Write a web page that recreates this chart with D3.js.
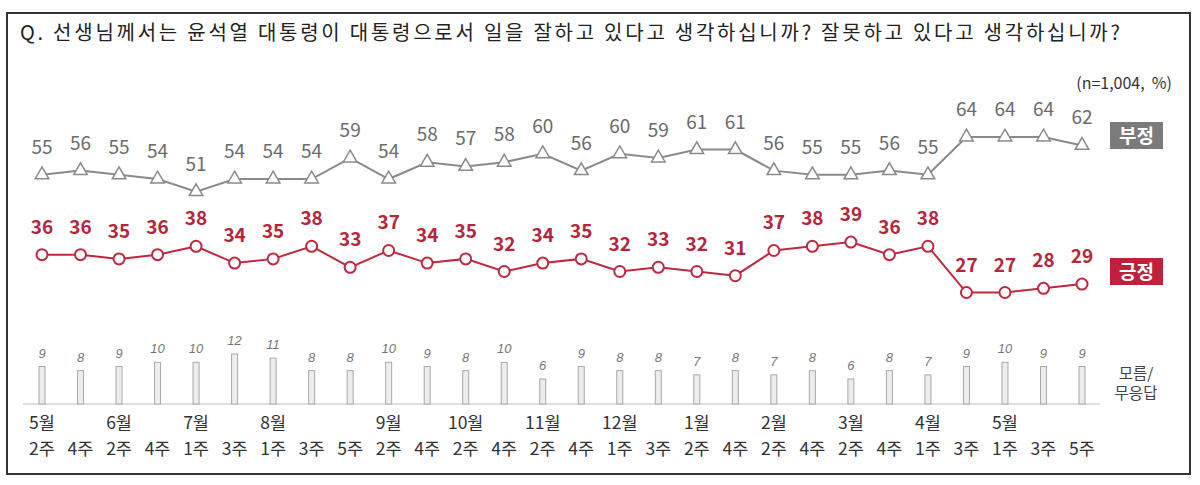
<!DOCTYPE html>
<html><head><meta charset="utf-8">
<script src="https://cdn.jsdelivr.net/npm/d3@7"></script>
<style>
html,body{margin:0;padding:0;background:#fff;}
svg{display:block;font-family:"Noto Sans CJK KR","Noto Sans",sans-serif;}
</style></head>
<body>
<svg id="chart" width="1200" height="485"></svg>
<script>
const monthLabels = ["5월","","6월","","7월","","8월","","","9월","","10월","","11월","","12월","","1월","","2월","","3월","","4월","","5월","",""];
const weekLabels = ["2주","4주","2주","4주","1주","3주","1주","3주","5주","2주","4주","2주","4주","2주","4주","1주","3주","2주","4주","2주","4주","2주","4주","1주","3주","1주","3주","5주"];
const negative = [55,56,55,54,51,54,54,54,59,54,58,57,58,60,56,60,59,61,61,56,55,55,56,55,64,64,64,62];
const positive = [36,36,35,36,38,34,35,38,33,37,34,35,32,34,35,32,33,32,31,37,38,39,36,38,27,27,28,29];
const unknown = [9,8,9,10,10,12,11,8,8,10,9,8,10,6,9,8,8,7,8,7,8,6,8,7,9,10,9,9];
const titleText = "Q. 선생님께서는 윤석열 대통령이 대통령으로서 일을 잘하고 있다고 생각하십니까? 잘못하고 있다고 생각하십니까?";
const noteText = "(n=1,004,  %)";
const seriesNames = ["부정","긍정"];
const unknownName = ["모름/","무응답"];

const svg = d3.select("#chart");
const idx = d3.range(negative.length);
const x = d3.scalePoint().domain(idx).range([42, 1082]);
const yLine = d3.scaleLinear().domain([0, 64]).range([406, 137]);
const yBar = d3.scaleLinear().domain([0, 12]).range([404, 354]);

// frame
svg.append("rect").attr("x",7).attr("y",13).attr("width",1183).attr("height",461)
  .attr("fill","none").attr("stroke","#333").attr("stroke-width",2);

// title
svg.append("text").attr("x",20).attr("y",40).attr("font-size",20).attr("fill","#222")
  .attr("textLength",1100).attr("lengthAdjust","spacing").text(titleText);
svg.append("text").attr("x",1172).attr("y",89).attr("text-anchor","end").attr("font-size",16)
  .attr("fill","#333").style("white-space","pre").text(noteText);

// bars
svg.append("line").attr("x1",23).attr("x2",1100).attr("y1",404).attr("y2",404)
  .attr("stroke","#d4d4d4").attr("stroke-width",1.5);
svg.append("g").selectAll("rect").data(unknown).join("rect")
  .attr("x",(d,i)=>x(i)-3).attr("y",d=>yBar(d)).attr("width",6).attr("height",d=>yBar(0)-yBar(d))
  .attr("fill","#ededed").attr("stroke","#a8a8a8").attr("stroke-width",1);
svg.append("g").selectAll("text").data(unknown).join("text")
  .attr("x",(d,i)=>x(i)).attr("y",d=>yBar(d)-9).attr("text-anchor","middle")
  .attr("font-size",13).attr("font-style","italic").attr("fill","#777")
  .attr("font-family","'Liberation Sans','DejaVu Sans',sans-serif").text(d=>d);

// x labels
svg.append("g").selectAll("text").data(monthLabels).join("text")
  .attr("x",(d,i)=>x(i)).attr("y",429).attr("text-anchor","middle").attr("font-size",17.5).attr("fill","#333").text(d=>d);
svg.append("g").selectAll("text").data(weekLabels).join("text")
  .attr("x",(d,i)=>x(i)).attr("y",455).attr("text-anchor","middle").attr("font-size",17.5).attr("fill","#333").text(d=>d);

// unknown label
svg.append("g").selectAll("text").data(unknownName).join("text")
  .attr("x",1136).attr("y",(d,i)=>379+i*20).attr("text-anchor","middle").attr("font-size",15.5).attr("fill","#444").text(d=>d);

const line = d3.line().x((d,i)=>x(i)).y(d=>yLine(d));
const gray = "#8a8a8a", red = "#c0283f";

// negative
svg.append("path").datum(negative).attr("d",line).attr("fill","none").attr("stroke",gray).attr("stroke-width",2);
svg.append("g").selectAll("path").data(negative).join("path")
  .attr("d",d3.symbol(d3.symbolTriangle,80)())
  .attr("transform",(d,i)=>`translate(${x(i)},${yLine(d)})`)
  .attr("fill","#fff").attr("stroke",gray).attr("stroke-width",1.5);
svg.append("g").selectAll("text").data(negative).join("text")
  .attr("x",(d,i)=>x(i)).attr("y",d=>yLine(d)-21).attr("text-anchor","middle")
  .attr("font-size",19).attr("fill","#6b6b6b").text(d=>d);

// positive
svg.append("path").datum(positive).attr("d",line).attr("fill","none").attr("stroke",red).attr("stroke-width",2);
svg.append("g").selectAll("circle").data(positive).join("circle")
  .attr("cx",(d,i)=>x(i)).attr("cy",d=>yLine(d)).attr("r",5.5)
  .attr("fill","#fff").attr("stroke",red).attr("stroke-width",2);
svg.append("g").selectAll("text").data(positive).join("text")
  .attr("x",(d,i)=>x(i)).attr("y",d=>yLine(d)-21).attr("text-anchor","middle")
  .attr("font-size",19).attr("font-weight",600).attr("fill","#b5253c").text(d=>d);

// legend boxes
const legend = [{name:seriesNames[0], y:122, c:"#7b7b7b"},{name:seriesNames[1], y:258, c:"#c0213a"}];
legend.forEach(l=>{
  svg.append("rect").attr("x",1110).attr("y",l.y).attr("width",53).attr("height",27).attr("fill",l.c);
  svg.append("text").attr("x",1136.5).attr("y",l.y+21).attr("text-anchor","middle")
    .attr("font-size",19).attr("font-weight","bold").attr("fill","#fff").text(l.name);
});
</script>
</body></html>
